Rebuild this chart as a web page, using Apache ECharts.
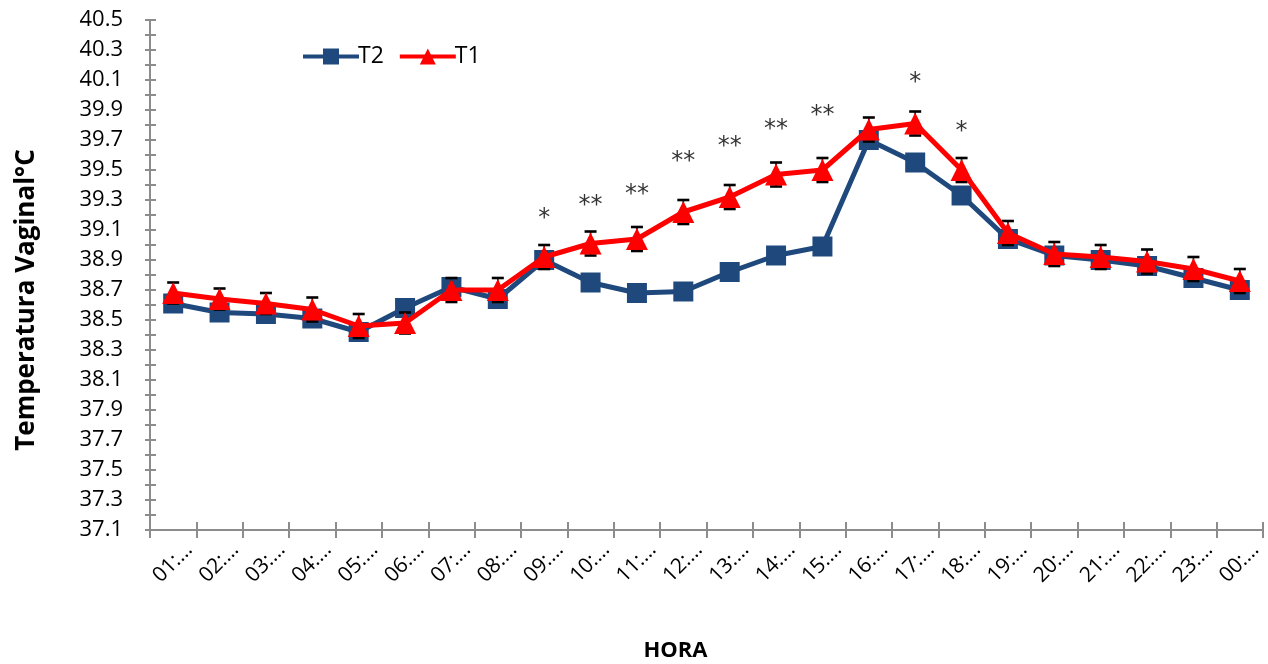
<!DOCTYPE html>
<html>
<head>
<meta charset="utf-8">
<script src="https://cdn.jsdelivr.net/npm/echarts@6/dist/echarts.min.js"></script>
<style>
  html, body { margin: 0; padding: 0; background: #fff; }
  #chart { width: 1268px; height: 664px; }
</style>
</head>
<body>
<div id="chart"></div>
<script>
// Hourly vaginal temperature, two treatments
const hours = ['01:00','02:00','03:00','04:00','05:00','06:00','07:00','08:00','09:00','10:00','11:00','12:00',
               '13:00','14:00','15:00','16:00','17:00','18:00','19:00','20:00','21:00','22:00','23:00','00:00'];
const t2 = [38.61, 38.55, 38.54, 38.51, 38.42, 38.58, 38.72, 38.64, 38.90, 38.75, 38.68, 38.69,
            38.82, 38.93, 38.99, 39.70, 39.55, 39.33, 39.04, 38.93, 38.90, 38.86, 38.78, 38.70];
const t1 = [38.68, 38.64, 38.61, 38.57, 38.46, 38.48, 38.70, 38.70, 38.92, 39.01, 39.04, 39.22,
            39.32, 39.47, 39.50, 39.77, 39.81, 39.50, 39.08, 38.94, 38.92, 38.89, 38.84, 38.76];
const t1Err = [0.07, 0.07, 0.07, 0.08, 0.08, 0.07, 0.08, 0.08, 0.08, 0.08, 0.08, 0.08,
               0.08, 0.08, 0.08, 0.08, 0.08, 0.08, 0.08, 0.08, 0.08, 0.08, 0.08, 0.08];
// Significance marks between treatments
const sigHours = ['09:00','10:00','11:00','12:00','13:00','14:00','15:00','17:00','18:00'];
const sigMarks = ['*','**','**','**','**','**','**','*','*'];
const sigLevel = [39.175, 39.264, 39.336, 39.558, 39.658, 39.765, 39.861, 40.081, 39.754];

const yMin = 37.1, yMax = 40.5, yStep = 0.1;

const FONT = '"Open Sans", sans-serif';
const AXIS_GREY = '#8c8c8c';

const chart = echarts.init(document.getElementById('chart'));

function yLabel(v) {
  const k = Math.round(v * 10);
  return (k % 2 === 1) ? (k / 10).toFixed(1) : '';
}

// Tick axis: one slot per category boundary, so the slanted hour labels
// hang from the right-hand boundary of each hour.
const boundaryCats = [''].concat(hours);

const errorData = hours.map((h, i) => [i, t1[i], t1Err[i]]);
const sigData = sigHours.map((h, i) => ({ value: [hours.indexOf(h), sigLevel[i]], mark: sigMarks[i] }));

const option = {
  animation: false,
  backgroundColor: '#fff',
  textStyle: { fontFamily: FONT },
  grid: { left: 150, right: 5, top: 20, bottom: 134, containLabel: false, outerBoundsMode: 'none' },
  legend: {
    data: ['T2', 'T1'],
    left: 296, top: 40,
    itemWidth: 56, itemHeight: 20, itemGap: 14,
    lineStyle: { width: 4 },
    textStyle: { fontSize: 23, color: '#000', fontFamily: FONT, padding: [0, 0, 0, -6] }
  },
  xAxis: [
    {
      type: 'category', data: hours, boundaryGap: true,
      name: 'HORA', nameLocation: 'middle', nameGap: 110,
      nameTextStyle: { fontSize: 22, fontWeight: 'bold', color: '#000', fontFamily: FONT, padding: [0, 62, 0, 0] },
      axisLine: { lineStyle: { color: AXIS_GREY, width: 2 } },
      axisTick: { show: true, length: 8, lineStyle: { color: AXIS_GREY, width: 2 } },
      axisLabel: { show: false },
      splitLine: { show: false }
    },
    {
      type: 'category', data: boundaryCats, boundaryGap: false, position: 'bottom', offset: 0,
      axisLine: { show: false },
      axisTick: { show: true, inside: true, length: 8, interval: 0, lineStyle: { color: AXIS_GREY, width: 2 } },
      axisLabel: {
        show: true, inside: false, interval: 0, rotate: 45, fontSize: 21, color: '#000', fontFamily: FONT,
        margin: 24, verticalAlign: 'bottom',
        formatter: v => (v ? v.slice(0, 3) + '\u2026' : '')
      },
      splitLine: { show: false }
    }
  ],
  yAxis: [
    {
      type: 'value', min: yMin, max: yMax, interval: yStep, position: 'left',
      name: 'Temperatura Vaginal°C', nameLocation: 'middle', nameGap: 110, nameRotate: 90,
      nameTextStyle: { fontSize: 26, fontWeight: 'bold', color: '#000', fontFamily: FONT, padding: [0, 50, 0, 0] },
      axisLine: { show: true, lineStyle: { color: AXIS_GREY, width: 2 } },
      axisTick: { show: true, length: 5, lineStyle: { color: AXIS_GREY, width: 2 } },
      axisLabel: { fontSize: 22, color: '#000', fontFamily: FONT, margin: 27, formatter: yLabel },
      splitLine: { show: false }
    },
    {
      type: 'value', min: yMin, max: yMax, interval: yStep, position: 'left', offset: 0,
      axisLine: { show: false },
      axisTick: { show: true, inside: true, length: 6, lineStyle: { color: AXIS_GREY, width: 2 } },
      axisLabel: { show: false }, splitLine: { show: false }
    }
  ],
  series: [
    {
      name: 'T2', type: 'line', data: t2, z: 2,
      symbol: 'rect', symbolSize: 20,
      lineStyle: { color: '#1f497d', width: 5 },
      itemStyle: { color: '#1f497d' }
    },
    {
      name: 'T1err', type: 'custom', data: errorData, z: 3,
      renderItem: function (params, api) {
        const i = api.value(0), v = api.value(1), e = api.value(2);
        const top = api.coord([i, v + e]);
        const bot = api.coord([i, v - e]);
        const cap = 6;
        const st = { stroke: '#000', lineWidth: 1.6 };
        const cs = { stroke: '#000', lineWidth: 2.6 };
        return {
          type: 'group',
          children: [
            { type: 'line', shape: { x1: top[0], y1: top[1], x2: bot[0], y2: bot[1] }, style: st },
            { type: 'line', shape: { x1: top[0] - cap, y1: top[1], x2: top[0] + cap, y2: top[1] }, style: cs },
            { type: 'line', shape: { x1: bot[0] - cap, y1: bot[1], x2: bot[0] + cap, y2: bot[1] }, style: cs }
          ]
        };
      }
    },
    {
      name: 'T1', type: 'line', data: t1, z: 4,
      symbol: 'triangle', symbolSize: 22,
      lineStyle: { color: '#ff0000', width: 5 },
      itemStyle: { color: '#ff0000' }
    },
    {
      name: 'sig', type: 'scatter', data: sigData, z: 5,
      symbolSize: 0, silent: true,
      label: {
        show: true, position: 'inside', fontSize: 24, color: '#000', fontFamily: '"DejaVu Sans", sans-serif',
        formatter: p => p.data.mark
      }
    }
  ]
};

chart.setOption(option);
</script>
</body>
</html>
